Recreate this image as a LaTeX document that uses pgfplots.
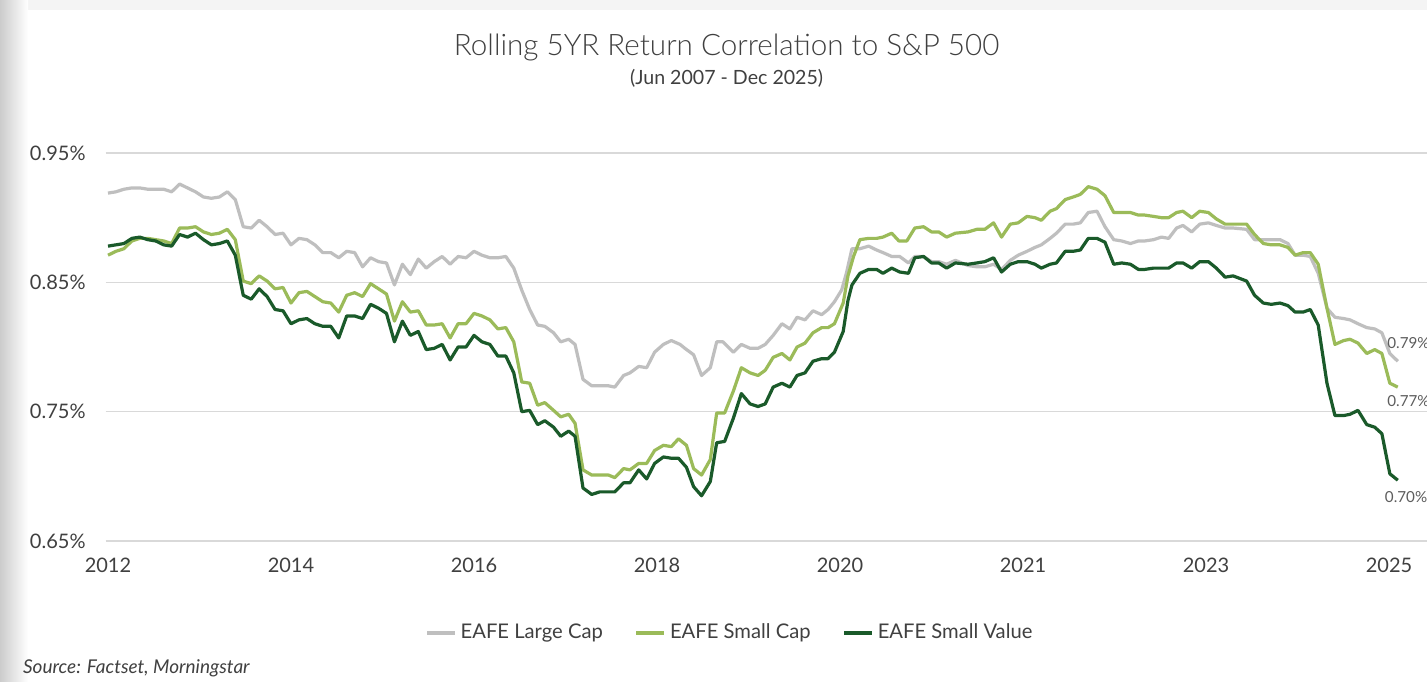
\documentclass[border=0pt]{standalone}
\usepackage{fontspec}
\setmainfont{Lato}
\IfFontExistsTF{Lato Light}{\newfontfamily\titlefont{Lato Light}}{\newfontfamily\titlefont{Lato}}
\usepackage{pgfplots}
\pgfplotsset{compat=1.18}
\usepackage{pgfplotstable}
\definecolor{lcap}{HTML}{BFBFBF}
\definecolor{scap}{HTML}{9BBB59}
\definecolor{sval}{HTML}{1A5A2A}
\definecolor{txt}{HTML}{404040}
\definecolor{gridc}{HTML}{D9D9D9}

% EAFE Large Cap
\pgfplotstableread{
x y
0 0.919
1 0.920
2 0.922
3 0.923
4 0.923
5 0.922
6 0.922
7 0.922
8 0.920
9 0.926
10 0.923
11 0.920
12 0.916
13 0.915
14 0.916
15 0.920
16 0.914
17 0.893
18 0.892
19 0.898
20 0.893
21 0.887
22 0.888
23 0.879
24 0.884
25 0.883
26 0.879
27 0.873
28 0.873
29 0.869
30 0.874
31 0.873
32 0.862
33 0.869
34 0.866
35 0.865
36 0.848
37 0.864
38 0.856
39 0.868
40 0.861
41 0.866
42 0.870
43 0.864
44 0.870
45 0.869
46 0.874
47 0.871
48 0.869
49 0.869
50 0.870
51 0.861
52 0.844
53 0.829
54.0 0.817
54.9 0.816
56.0 0.811
56.9 0.804
57.9 0.806
58.7 0.802
59.7 0.775
60.8 0.770
61.8 0.770
62.9 0.770
63.7 0.769
64.8 0.778
65.6 0.780
66.7 0.785
67.7 0.784
68.7 0.796
69.8 0.802
70.8 0.805
71.9 0.802
72.5 0.799
73.6 0.794
74.6 0.778
75.7 0.784
76.5 0.804
77.3 0.804
78.6 0.796
79.6 0.802
80.7 0.799
81.7 0.799
82.6 0.802
83.6 0.809
84.7 0.818
85.7 0.814
86.6 0.823
87.6 0.821
88.6 0.828
89.7 0.825
90.5 0.829
91.3 0.835
92.2 0.844
92.8 0.857
93.5 0.876
94.5 0.876
95.6 0.878
96.6 0.875
97.4 0.873
98.5 0.870
99.5 0.870
100.6 0.865
101.4 0.870
102.5 0.870
103.5 0.866
104.4 0.866
105.4 0.864
106.5 0.867
108.1 0.863
109.2 0.862
110.2 0.862
111.3 0.864
112.3 0.860
113.4 0.867
114.4 0.871
115.5 0.874
116.5 0.877
117.3 0.879
118.4 0.884
119.2 0.888
120.3 0.895
121.3 0.895
122.2 0.896
123.2 0.904
124.3 0.905
125.3 0.893
126.4 0.883
127.4 0.882
128.5 0.880
129.5 0.882
130.3 0.882
131.4 0.883
132.4 0.885
133.3 0.884
134.3 0.892
135.1 0.894
136.2 0.889
137.2 0.895
138.3 0.896
139.3 0.894
140.4 0.892
141.4 0.892
143.1 0.891
144.1 0.883
145.2 0.883
146.2 0.883
147.3 0.883
148.3 0.880
149.2 0.871
150.2 0.871
151.1 0.870
152.1 0.857
153.2 0.830
154.2 0.823
155.3 0.822
156.1 0.821
157.1 0.818
158.2 0.815
159.2 0.814
160.1 0.811
161.1 0.795
162.1 0.789
}\largecap

% EAFE Small Cap
\pgfplotstableread{
x y
0 0.871
1 0.874
2 0.876
3 0.882
4 0.884
5 0.884
6 0.883
7 0.882
8 0.880
9 0.892
10 0.892
11 0.893
12 0.889
13 0.887
14 0.888
15 0.891
16 0.883
17 0.851
18 0.849
19 0.855
20 0.851
21 0.845
22 0.846
23 0.834
24 0.842
25 0.843
26 0.839
27 0.835
28 0.834
29 0.827
30 0.840
31 0.842
32 0.839
33 0.849
34 0.845
35 0.841
36 0.820
37 0.835
38 0.827
39 0.828
40 0.817
41 0.817
42 0.818
43 0.807
44 0.818
45 0.818
46 0.826
47 0.824
48 0.821
49 0.814
50 0.815
51 0.804
52 0.773
53 0.772
54.0 0.755
54.9 0.757
56.0 0.751
56.9 0.746
57.9 0.748
58.7 0.741
59.7 0.705
60.8 0.701
61.8 0.701
62.9 0.701
63.7 0.699
64.8 0.706
65.6 0.705
66.7 0.710
67.7 0.710
68.7 0.720
69.8 0.724
70.8 0.723
71.7 0.729
72.7 0.724
73.6 0.706
74.6 0.701
75.7 0.713
76.5 0.749
77.5 0.749
78.6 0.766
79.6 0.784
80.7 0.780
81.7 0.778
82.6 0.782
83.6 0.792
84.7 0.795
85.7 0.790
86.6 0.800
87.6 0.803
88.6 0.811
89.7 0.815
90.5 0.815
91.3 0.818
92.4 0.834
93.0 0.855
93.7 0.870
94.5 0.883
95.6 0.884
96.6 0.884
97.4 0.885
98.5 0.888
99.4 0.882
100.4 0.882
101.4 0.892
102.5 0.893
103.5 0.889
104.4 0.889
105.4 0.885
106.5 0.888
108.1 0.889
109.2 0.891
110.2 0.891
111.3 0.896
112.3 0.885
113.4 0.895
114.4 0.896
115.5 0.901
116.5 0.900
117.3 0.898
118.4 0.905
119.2 0.907
120.3 0.914
121.3 0.916
122.2 0.918
123.2 0.924
124.3 0.922
125.3 0.917
126.4 0.904
127.4 0.904
128.5 0.904
129.5 0.902
130.3 0.902
131.4 0.901
132.4 0.900
133.3 0.900
134.3 0.904
135.1 0.905
136.2 0.900
137.2 0.905
138.3 0.904
139.3 0.899
140.4 0.895
141.4 0.895
143.1 0.895
144.1 0.887
145.2 0.880
146.2 0.879
147.3 0.879
148.3 0.877
149.2 0.871
150.2 0.873
151.1 0.873
152.1 0.864
153.2 0.830
154.2 0.802
155.3 0.805
156.1 0.806
157.1 0.803
158.2 0.795
159.2 0.798
160.1 0.795
161.1 0.772
162.1 0.769
}\smallcap

% EAFE Small Value
\pgfplotstableread{
x y
0 0.878
1 0.879
2 0.880
3 0.884
4 0.885
5 0.883
6 0.882
7 0.879
8 0.878
9 0.887
10 0.885
11 0.888
12 0.883
13 0.879
14 0.880
15 0.882
16 0.871
17 0.840
18 0.837
19 0.845
20 0.839
21 0.829
22 0.828
23 0.818
24 0.821
25 0.822
26 0.818
27 0.816
28 0.816
29 0.807
30 0.824
31 0.824
32 0.822
33 0.833
34 0.830
35 0.826
36 0.804
37 0.820
38 0.809
39 0.812
40 0.798
41 0.799
42 0.802
43 0.790
44 0.800
45 0.800
46 0.809
47 0.804
48 0.802
49 0.793
50 0.793
51 0.780
52 0.750
53 0.751
54.0 0.740
54.9 0.743
56.0 0.738
56.9 0.731
57.9 0.735
58.7 0.731
59.7 0.691
60.8 0.686
61.8 0.688
62.9 0.688
63.7 0.688
64.8 0.695
65.6 0.695
66.7 0.705
67.7 0.698
68.7 0.710
69.8 0.715
70.8 0.714
71.7 0.714
72.7 0.707
73.6 0.692
74.6 0.685
75.7 0.696
76.5 0.726
77.5 0.727
78.6 0.745
79.6 0.764
80.7 0.756
81.7 0.754
82.6 0.756
83.6 0.769
84.7 0.772
85.7 0.769
86.6 0.778
87.6 0.780
88.6 0.789
89.7 0.791
90.5 0.791
91.3 0.796
92.4 0.812
93.0 0.836
93.5 0.848
94.5 0.857
95.6 0.860
96.6 0.860
97.4 0.857
98.5 0.861
99.5 0.858
100.6 0.857
101.4 0.869
102.5 0.870
103.5 0.865
104.4 0.865
105.4 0.861
106.5 0.865
108.1 0.864
109.2 0.865
110.2 0.866
111.3 0.869
112.3 0.858
113.4 0.864
114.4 0.866
115.5 0.866
116.5 0.864
117.3 0.861
118.4 0.864
119.2 0.865
120.3 0.874
121.3 0.874
122.2 0.875
123.2 0.884
124.3 0.884
125.3 0.881
126.4 0.864
127.4 0.865
128.5 0.864
129.5 0.860
130.3 0.860
131.4 0.861
132.4 0.861
133.3 0.861
134.3 0.865
135.1 0.865
136.2 0.861
137.2 0.866
138.3 0.866
139.3 0.861
140.4 0.854
141.4 0.855
143.1 0.851
144.1 0.840
145.2 0.834
146.2 0.833
147.3 0.834
148.3 0.832
149.2 0.827
150.2 0.827
151.1 0.829
152.1 0.817
153.2 0.772
154.2 0.747
155.3 0.747
156.1 0.748
157.1 0.751
158.2 0.740
159.2 0.738
160.1 0.733
161.1 0.702
162.1 0.697
}\smallvalue

\begin{document}
\begin{tikzpicture}
% page frame, cropped like the screenshot
\path[use as bounding box] (0,0) rectangle (713.5pt,-340.5pt);
\fill[white] (0,0) rectangle (713.5pt,-340.5pt);
\fill[gray!9] (0,0) rectangle (713.5pt,-5pt);
\shade[left color=gray!40,right color=white] (0,0) rectangle (14pt,-340.5pt);

\begin{axis}[
  at={(52.8pt,-270.5pt)},anchor=south west,
  scale only axis,width=661.6pt,height=194pt,
  xmin=-0.3,xmax=166,ymin=0.65,ymax=0.95,
  axis line style={draw=none},
  major tick length=0pt,
  ymajorgrids,grid style={draw=gridc,line width=0.8pt},
  xtick={0,23,46,69,92,115,138,161},
  xticklabels={2012,2014,2016,2018,2020,2021,2023,2025},
  ytick={0.65,0.75,0.85,0.95},
  yticklabels={0.65\%,0.75\%,0.85\%,0.95\%},
  tick label style={font=\fontsize{10}{12}\selectfont,text=txt},
  yticklabel style={xshift=-6.5pt},
  xticklabel style={yshift=-5pt},
  clip=false,
  legend style={at={(0.4726,-0.237)},anchor=center,draw=none,
    legend columns=3,font=\fontsize{10.1}{12}\selectfont,text=txt,
    /tikz/every even column/.append style={column sep=14pt}},
  legend image code/.code={\draw[#1] (0pt,0pt) -- (14pt,0pt);},
  every axis plot/.append style={line width=1.6pt,line join=round,no markers},
]
\addplot[lcap] table[x=x,y=y] {\largecap};
\addplot[scap] table[x=x,y=y] {\smallcap};
\addplot[sval] table[x=x,y=y] {\smallvalue};
\legend{EAFE Large Cap,EAFE Small Cap,EAFE Small Value}
% end-of-line value labels
\node[anchor=west,text=txt!85,font=\fontsize{7.6}{9}\selectfont] at (axis cs:159.9,0.803) {0.79\%};
\node[anchor=west,text=txt!85,font=\fontsize{7.6}{9}\selectfont] at (axis cs:159.9,0.758) {0.77\%};
\node[anchor=west,text=txt!85,font=\fontsize{7.6}{9}\selectfont] at (axis cs:159.6,0.684) {0.70\%};
\end{axis}

\node[text=txt,font=\titlefont\fontsize{14.8}{18}\selectfont] at (363.3pt,-23.5pt) {Rolling 5YR Return Correlation to S\&P 500};
\node[text=txt,font=\fontsize{9.8}{12}\selectfont] at (363.3pt,-39pt) {(Jun 2007 - Dec 2025)};
\node[anchor=west,text=txt,font=\itshape\fontsize{9.5}{11}\selectfont] at (8pt,-334pt) {Source: Factset, Morningstar};
\end{tikzpicture}
\end{document}
